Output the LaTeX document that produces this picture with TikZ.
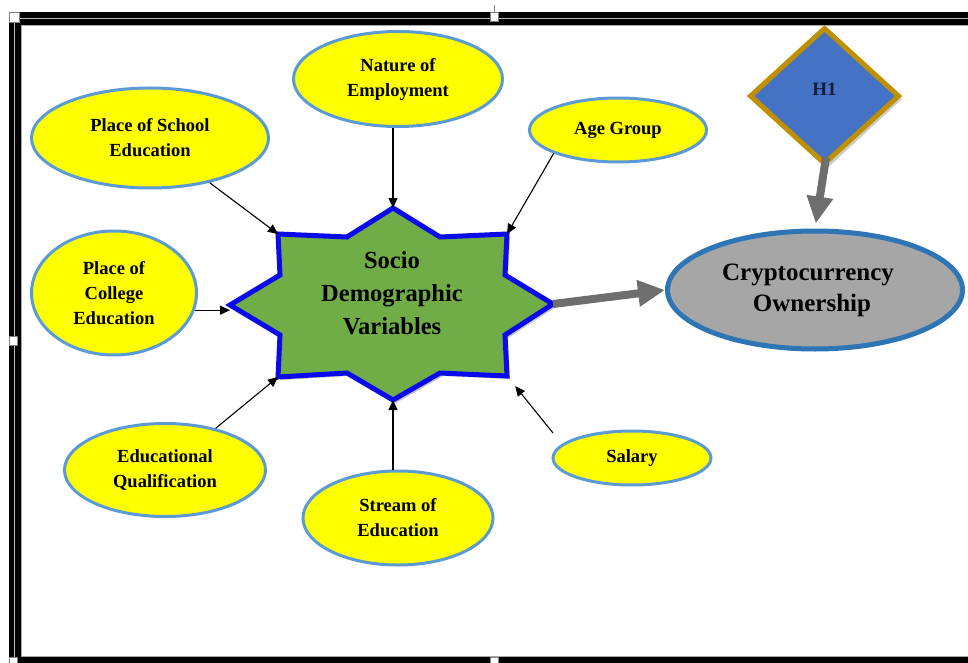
\documentclass[tikz,border=0pt]{standalone}
\usepackage{fontspec}
\setmainfont{Liberation Serif}
\usetikzlibrary{shapes.geometric,arrows.meta}
\definecolor{ellfill}{RGB}{255,255,0}
\definecolor{elledge}{RGB}{91,155,213}
\definecolor{stargreen}{RGB}{112,173,71}
\definecolor{starblue}{RGB}{10,10,235}
\definecolor{cryfill}{RGB}{166,166,166}
\definecolor{cryedge}{RGB}{46,117,182}
\definecolor{hfill}{RGB}{68,114,196}
\definecolor{hedge}{RGB}{191,144,0}
\definecolor{arrgray}{RGB}{110,110,110}
\definecolor{htext}{RGB}{20,30,60}
\begin{document}
\begin{tikzpicture}[x=1pt,y=-1pt,
  lbl/.style={ellipse, fill=ellfill, draw=elledge, line width=3pt, inner sep=0pt, align=center,
    font=\fontsize{18.5}{25}\selectfont\bfseries, text=black},
  thinarr/.style={line width=1.1pt, -{Triangle[length=10pt,width=9pt]}},
  bigarr/.style={line width=8pt, draw=arrgray, -{Triangle[length=27pt,width=25pt]}},
  handle/.style={fill=white, draw=gray, line width=0.6pt}
]
\useasboundingbox (0,0) rectangle (968,663);
\fill[white] (0,0) rectangle (968,663);
% frame
\fill[black] (9,12.5) rectangle (968,25);
\fill[black] (9,12.5) rectangle (21,663);
\fill[black] (9,656) rectangle (968,663);
\draw[gray!55, line width=1pt] (14.5,18.5) -- (968,18.5);
\draw[gray!55, line width=1pt] (14.5,18.5) -- (14.5,660);
\draw[gray!70, line width=0.8pt] (21,25) -- (968,25);
\draw[gray!70, line width=0.8pt] (21,25) -- (21,656) -- (968,656);
\draw[handle] (9.5,12.5) rectangle (19.5,22.5);
\draw[handle] (490,12.5) rectangle (498,21);
\draw[gray, line width=0.6pt] (494,5) -- (494,12.5);
\draw[handle] (9.5,336) rectangle (17,345);
\draw[handle] (9.5,657) rectangle (17,663);
\draw[handle] (490,657) rectangle (498,663);

% outer labels
\node[lbl, minimum width=237pt, minimum height=100pt] (school) at (150,138) {Place of School\\Education};
\node[lbl, minimum width=209pt, minimum height=95pt] (nature) at (398,79) {Nature of\\Employment};
\node[lbl, minimum width=177pt, minimum height=64pt] (age) at (618,130) {Age Group};
\node[lbl, minimum width=165pt, minimum height=124pt] (college) at (114,293) {Place of\\College\\Education};
\node[lbl, minimum width=201pt, minimum height=93pt] (edu) at (165,470) {Educational\\Qualification};
\node[lbl, minimum width=190pt, minimum height=94pt] (stream) at (398,518) {Stream of\\Education};
\node[lbl, minimum width=158pt, minimum height=54pt] (salary) at (632,458) {Salary};

% star
\coordinate (sTL) at (278,234);
\coordinate (sT) at (393,208);
\coordinate (sTR) at (507,234);
\coordinate (sR) at (553,304);
\coordinate (sBR) at (507,376);
\coordinate (sB) at (393,400);
\coordinate (sBL) at (278,377);
\coordinate (sL) at (230,305);
\fill[gray!45] ([shift={(3,3)}]sTL) -- ++(69,3) -- ++(46,-29) -- ++(47,29) -- ++(67,-3) -- ++(-2,41) -- ++(48,29) -- ++(-48,31) -- ++(2,41) -- ++(-67,-3) -- ++(-47,27) -- ++(-46,-27) -- ++(-69,4) -- ++(2,-42) -- ++(-50,-30) -- ++(50,-30) -- cycle;
\filldraw[fill=stargreen, draw=starblue, line width=5pt, line join=miter]
  (sTL) -- (347,237) -- (sT) -- (440,237) -- (sTR) -- (505,275) -- (sR) -- (505,335) -- (sBR)
  -- (440,373) -- (sB) -- (347,373) -- (sBL) -- (280,335) -- (sL) -- (280,275) -- cycle;
\node[font=\fontsize{24.5}{33}\selectfont\bfseries, align=center, text=black] (star) at (392,293) {Socio\\Demographic\\Variables};

% outcome
\node[ellipse, fill=cryfill, draw=cryedge, line width=5pt, minimum width=295pt, minimum height=118pt,
  inner sep=0pt, align=center, font=\fontsize{25}{31}\selectfont\bfseries, text=black] (crypto) at (815,290)
  {Cryptocurrency\hspace*{14pt}\\Ownership\hspace*{6pt}};

% hypothesis
\fill[gray!40] (827.5,28) -- (902,99) -- (827.5,168) -- (753,99) -- cycle;
\node[diamond, fill=hfill, draw=hedge, line width=5pt, minimum width=150pt, minimum height=137pt,
  inner sep=0pt, text depth=14pt, font=\fontsize{19}{23}\selectfont\bfseries, text=htext] (h1) at (824.5,96) {H1};

% thin arrows
\draw[thinarr] (school) -- (sTL);
\draw[thinarr] (nature.south -| sT) -- (sT);
\draw[thinarr] (age.200) -- (sTR);
\draw[thinarr] (college.-12) -- (college.-12 -| sL);
\draw[thinarr] (edu) -- (sBL);
\draw[thinarr] (stream.north -| sB) -- (sB);
\coordinate (salA) at (553,433);
\draw[thinarr, shorten >=13pt] (salA) -- (sBR);

% thick arrows
\draw[bigarr] (sR) -- (crypto.west);
\draw[bigarr, shorten <=-10pt, shorten >=5pt] (h1.south) -- (crypto.north);
\end{tikzpicture}
\end{document}
